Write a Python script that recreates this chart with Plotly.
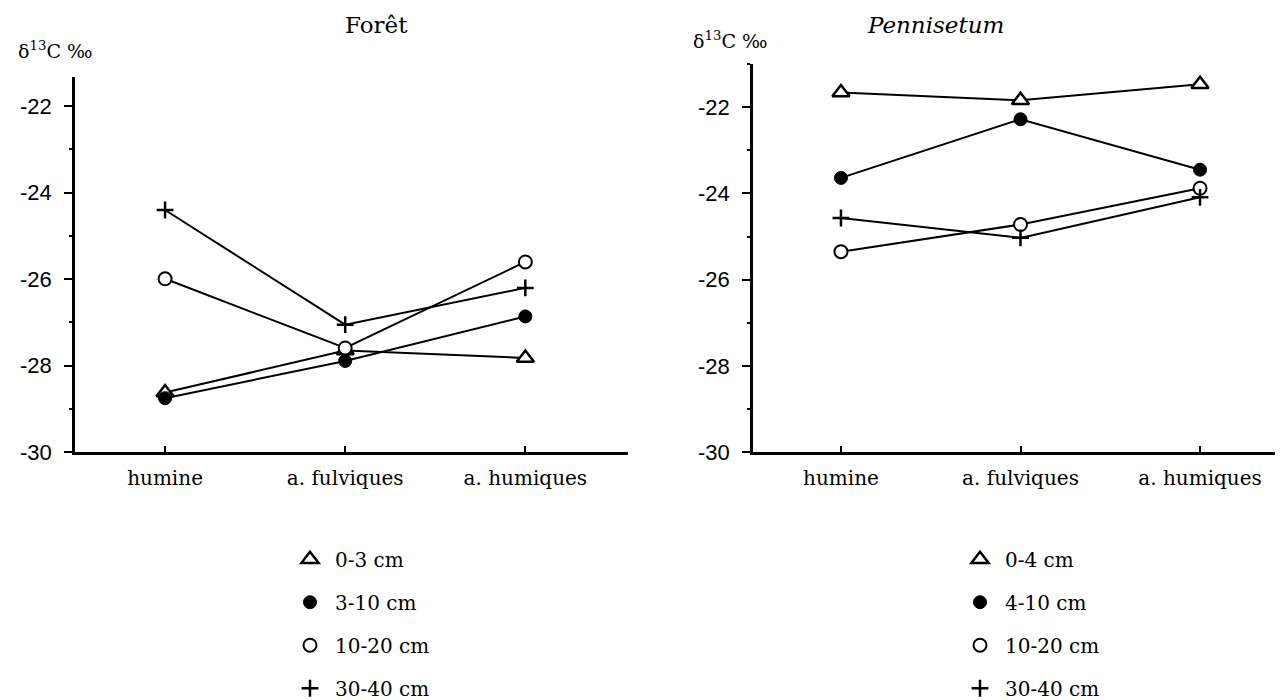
import plotly.graph_objects as go

# ── Données ───────────────────────────────────────────────────────────────────
fractions = ["humine", "a. fulviques", "a. humiques"]

foret_labels = ["0-3 cm", "3-10 cm", "10-20 cm", "30-40 cm"]
foret_0_3   = [-28.62, -27.65, -27.82]
foret_3_10  = [-28.75, -27.89, -26.86]
foret_10_20 = [-25.99, -27.59, -25.60]
foret_30_40 = [-24.40, -27.05, -26.20]

penn_labels = ["0-4 cm", "4-10 cm", "10-20 cm", "30-40 cm"]
penn_0_4   = [-21.66, -21.84, -21.47]
penn_4_10  = [-23.64, -22.28, -23.45]
penn_10_20 = [-25.35, -24.72, -23.88]
penn_30_40 = [-24.57, -25.03, -24.09]

y_ticks = [-30, -28, -26, -24, -22]
y_tick_text = ["-30", "-28", "-26", "-24", "-22"]

SERIF = "DejaVu Serif"
SANS = "Liberation Sans"

MARKERS = [
    dict(symbol="triangle-up", size=15, color="white", line=dict(color="black", width=2.5)),
    dict(symbol="circle", size=13, color="black", line=dict(color="black", width=1)),
    dict(symbol="circle", size=13, color="white", line=dict(color="black", width=2)),
    dict(symbol="cross-thin", size=12, color="black", line=dict(color="black", width=2.5)),
]

fig = go.Figure()

panels = [
    ("x", "y", "legend", foret_labels, [foret_0_3, foret_3_10, foret_10_20, foret_30_40]),
    ("x2", "y2", "legend2", penn_labels, [penn_0_4, penn_4_10, penn_10_20, penn_30_40]),
]

for xa, ya, leg, labels, series in panels:
    for vals in series:
        fig.add_trace(go.Scatter(x=fractions, y=vals, xaxis=xa, yaxis=ya, mode="lines",
                                 line=dict(color="black", width=2), showlegend=False,
                                 hoverinfo="skip"))
    for i, (lab, vals) in enumerate(zip(labels, series)):
        fig.add_trace(go.Scatter(x=fractions, y=vals, xaxis=xa, yaxis=ya, mode="markers",
                                 marker=MARKERS[i], name=lab, legend=leg,
                                 legendgroup=f"{leg}_{i}"))

xcommon = dict(type="category", showline=True, linecolor="black", linewidth=2.5,
               ticks="inside", ticklen=7, tickwidth=2, tickcolor="black",
               showgrid=False, zeroline=False, ticklabelstandoff=6,
               tickfont=dict(family=SERIF, size=20, color="black"))
ycommon = dict(showline=True, linecolor="black", linewidth=2.5,
               ticks="outside", ticklen=8, tickwidth=2, tickcolor="black",
               tickvals=y_ticks, ticktext=y_tick_text, showgrid=False, zeroline=False,
               ticklabelstandoff=8,
               minor=dict(dtick=1, ticks="outside", ticklen=3, tickwidth=2, tickcolor="black"),
               tickfont=dict(family=SANS, size=22, color="black"))

legcommon = dict(font=dict(family=SERIF, size=20, color="black"), tracegroupgap=14,
                 itemwidth=40, bgcolor="rgba(0,0,0,0)", yanchor="top")

fig.update_layout(
    width=1283, height=700,
    margin=dict(l=0, r=0, t=0, b=0),
    plot_bgcolor="white", paper_bgcolor="white",
    xaxis=dict(xcommon, domain=[67/1283, 620/1283], range=[-0.5, 2.57], anchor="y"),
    yaxis=dict(ycommon, domain=[248/700, 630/700], range=[-30, -21.32], anchor="x"),
    xaxis2=dict(xcommon, domain=[745/1283, 1280/1283], range=[-0.49, 2.49], anchor="y2"),
    yaxis2=dict(ycommon, domain=[248/700, 643/700], range=[-30, -21.0], anchor="x2"),
    legend=dict(legcommon, x=277/1283, y=1 - 541/700),
    legend2=dict(legcommon, x=947/1283, y=1 - 541/700),
    annotations=[
        dict(text="Forêt", x=335/1283, y=1 - 2/700, xref="paper", yref="paper",
             yanchor="top", showarrow=False, font=dict(family=SERIF, size=23, color="black")),
        dict(text="<i>Pennisetum</i>", x=998/1283, y=1 - 2/700, xref="paper", yref="paper",
             yanchor="top", showarrow=False, font=dict(family=SERIF, size=23, color="black")),
        dict(text="δ<sup>13</sup>C ‰", x=8/1283, y=1 - 43/700, xref="paper", yref="paper",
             xanchor="left", yanchor="middle", showarrow=False,
             font=dict(family=SERIF, size=19, color="black")),
        dict(text="δ<sup>13</sup>C ‰", x=683/1283, y=1 - 33/700, xref="paper", yref="paper",
             xanchor="left", yanchor="middle", showarrow=False,
             font=dict(family=SERIF, size=19, color="black")),
    ],
)

fig.write_html("out.html")
